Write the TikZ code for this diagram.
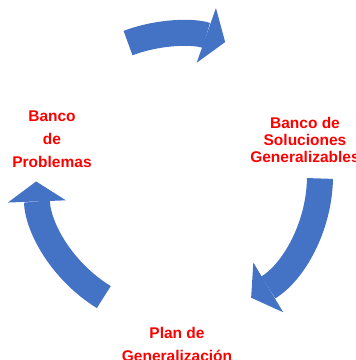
\documentclass[tikz,border=0pt]{standalone}
\usepackage{fontspec}
\setmainfont{Liberation Sans}
\usepackage{tikz}
\usetikzlibrary{arrows.meta,calc}

\definecolor{cycleblue}{RGB}{68,114,196}

\tikzset{
  cycle_arrow/.style={draw=cycleblue, line width=26pt, -{Triangle[width=58pt,length=20pt,line width=0pt]}},
  stage/.style={text=red, font=\bfseries\fontsize{15.5}{23}\selectfont, align=center, inner sep=0pt, anchor=north}
}

\begin{document}
\begin{tikzpicture}[x=1pt,y=1pt]
          \useasboundingbox (0,0) rectangle (356,360);
          \coordinate (cycle_center) at (178,184);

          % nodes
          \node[stage] (problem_bank) at (52,249) {Banco\\de\\Problemas};%

          \node[stage, font=\bfseries\fontsize{15.5}{17}\selectfont] (solution_bank) at (305,243) {Banco de\\Soluciones\\Generalizables}; %

          \node[stage] (generalization_plan) at (177,33) {Plan de\\Generalización};

          % tails of the arrows
          \coordinate (top_tail) at ([shift={(110.6:142pt)}] cycle_center);
          \coordinate (right_tail) at ([shift={(-1:142pt)}] cycle_center);
          \coordinate (left_tail) at ([shift={(-121.5:142pt)}] cycle_center);

          % edges
          \draw[cycle_arrow] (top_tail) arc[start angle=110.6, end angle=70.6, radius=142pt];
          \draw[cycle_arrow] (right_tail) arc[start angle=-1, end angle=-59, radius=142pt];
          \draw[cycle_arrow] (left_tail) arc[start angle=-121.5, end angle=-177.8, radius=142pt];

\end{tikzpicture}
\end{document}
